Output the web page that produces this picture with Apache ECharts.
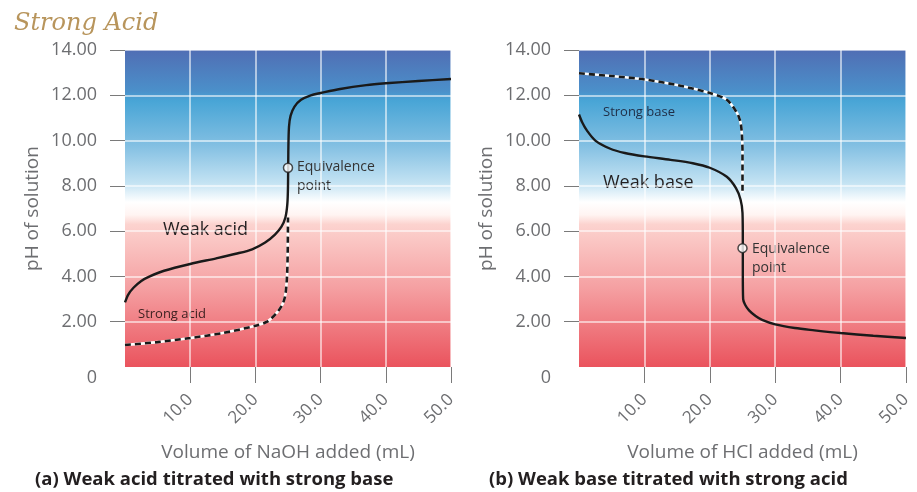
<!DOCTYPE html>
<html><head><meta charset="utf-8">
<script src="https://cdn.jsdelivr.net/npm/echarts@6/dist/echarts.min.js"></script>
<style>html,body{margin:0;padding:0;background:#fff}#c{width:917px;height:492px}</style>
</head><body><div id="c"></div>
<script>
// ---- data (x = mL titrant added, y = pH) ----
const yTicks = [0, 2, 4, 6, 8, 10, 12, 14];
const xTicks = [10, 20, 30, 40, 50];
const weakAcid = [[0,2.85],[0.5,3.2],[1.3,3.5],[2.5,3.8],[3.8,4.0],[6,4.25],[10,4.55],[14,4.8],[17,5.0],[19.5,5.2],[21.5,5.5],[23,5.85],[24,6.2],[24.6,6.6],[24.9,7.2],[25.0,8.0],[25.05,9.5],[25.15,10.6],[25.4,11.1],[26,11.5],[27,11.8],[28.5,12.0],[30,12.1],[33,12.28],[37,12.45],[40,12.53],[45,12.63],[50,12.72]];
const strongAcid = [[0,0.97],[5,1.1],[10,1.28],[15,1.5],[20,1.82],[21.8,2.0],[23.3,2.4],[24.2,2.8],[24.6,3.2],[24.85,4.0],[24.95,5.0],[25,6.6]];
const weakBase = [[0,11.15],[0.5,10.8],[1.2,10.45],[2.5,10.0],[4.7,9.65],[7,9.45],[10,9.3],[14,9.15],[17.4,9.0],[20,8.8],[22.6,8.4],[24,7.9],[24.7,7.4],[25,6.8],[25.05,5.5],[25.05,4.0],[25.1,3.0],[25.4,2.75],[26,2.5],[27,2.25],[28,2.08],[30,1.88],[33,1.72],[36,1.62],[40,1.5],[45,1.38],[50,1.28]];
const strongBase = [[0,12.97],[5,12.85],[10,12.7],[15,12.45],[20,12.1],[22.6,11.8],[24.2,11.2],[24.7,10.8],[24.9,10.3],[25,9.5],[25,7.7]];
const eqLeft = [[25, 8.8]];
const eqRight = [[25, 5.25]];

const FONT = 'Open Sans';
const grad = {type:'linear',x:0,y:0,x2:0,y2:1,colorStops:[
  {offset:0,color:'#506eb4'},{offset:0.13,color:'#4b90ca'},{offset:0.16,color:'#48a5d6'},
  {offset:0.3,color:'#82bfe2'},{offset:0.42,color:'#c4e3f3'},{offset:0.48,color:'#ffffff'},
  {offset:0.52,color:'#fff4f2'},{offset:0.55,color:'#fcd3cf'},{offset:0.75,color:'#f5a0a2'},
  {offset:1,color:'#ea535d'}]};

function yAxis(gi){
  return {type:'value',gridIndex:gi,min:0,max:14,interval:2,
    name:'pH of solution',nameLocation:'middle',nameGap:83,
    nameTextStyle:{fontFamily:FONT,fontSize:19,color:'#6d6e71'},
    axisLine:{show:false},
    axisTick:{show:true,length:15,customValues:[2,4,6,8,10,12,14],lineStyle:{color:'#7a7a7a',width:1}},
    axisLabel:{margin:28,fontFamily:FONT,fontSize:18,color:'#6d6e71',customValues:yTicks,
      formatter:v=>v===0?'{z|0}':v.toFixed(2),
      rich:{z:{fontFamily:FONT,fontSize:18,color:'#6d6e71',padding:[22,0,0,0]}}},
    splitLine:{show:true,lineStyle:{color:'rgba(255,255,255,0.75)',width:1.5}}};
}
function xAxis(gi,name){
  return {type:'value',gridIndex:gi,min:0,max:50,interval:10,
    name:name,nameLocation:'middle',nameGap:76,
    nameTextStyle:{fontFamily:FONT,fontSize:19,color:'#6d6e71'},
    axisLine:{show:false},
    axisTick:{show:true,length:16,customValues:xTicks,lineStyle:{color:'#7a7a7a',width:1}},
    axisLabel:{rotate:45,margin:30,padding:[70,0,0,0],fontFamily:FONT,fontSize:17,color:'#6d6e71',
      customValues:xTicks,formatter:v=>v.toFixed(1)},
    splitLine:{show:true,lineStyle:{color:'rgba(255,255,255,0.75)',width:1.5}}};
}
function line(gi,data,dashed){
  const s=[];
  if(dashed){
    s.push({type:'line',xAxisIndex:gi,yAxisIndex:gi,data:data,symbol:'none',smooth:0.3,
      lineStyle:{color:'#ffffff',width:2.6},z:3,silent:true});
    s.push({type:'line',xAxisIndex:gi,yAxisIndex:gi,data:data,symbol:'none',smooth:0.3,
      lineStyle:{color:'#1a1a1a',width:2.6,type:[6,4]},z:4,silent:true});
  } else {
    s.push({type:'line',xAxisIndex:gi,yAxisIndex:gi,data:data,symbol:'none',smooth:0.3,
      lineStyle:{color:'#1a1a1a',width:2.4},z:5,silent:true});
  }
  return s;
}
function eq(gi,data){
  return {type:'scatter',xAxisIndex:gi,yAxisIndex:gi,data:data,symbol:'circle',symbolSize:9,
    itemStyle:{color:'#ffffff',borderColor:'#222',borderWidth:1.5},z:10};
}
function txt(x,y,t,size,color,weight){
  return {type:'text',left:x,top:y,style:{text:t,fontFamily:FONT,fontSize:size,fill:color,fontWeight:weight||'normal',lineHeight:size+5}};
}

const chart = echarts.init(document.getElementById('c'),null,{renderer:'canvas'});
chart.setOption({
  animation:false,
  title:{text:'Strong Acid',left:9,top:7,textStyle:{fontFamily:'DejaVu Serif',fontStyle:'italic',fontWeight:'normal',fontSize:24,color:'#b8955c'}},
  grid:[
    {left:125,top:50,width:326,height:317,show:true,backgroundColor:grad,borderWidth:0},
    {left:579,top:50,width:327,height:317,show:true,backgroundColor:grad,borderWidth:0}
  ],
  xAxis:[xAxis(0,'Volume of NaOH added (mL)'),xAxis(1,'Volume of HCl added (mL)')],
  yAxis:[yAxis(0),yAxis(1)],
  series:[].concat(
    line(0,strongAcid,true),line(0,weakAcid,false),eq(0,eqLeft),
    line(1,strongBase,true),line(1,weakBase,false),eq(1,eqRight)
  ),
  graphic:[
    txt(297,158,'Equivalence\npoint',14,'#333'),
    txt(752,240,'Equivalence\npoint',14,'#333'),
    txt(163,218,'Weak acid',18,'#231f20'),
    txt(138,305,'Strong acid',13,'#3b1f1f'),
    txt(603,103,'Strong base',13,'#1f2d45'),
    txt(603,171,'Weak base',18,'#231f20'),
    txt(35,468,'(a) Weak acid titrated with strong base',18.5,'#231f20','bold'),
    txt(489,468,'(b) Weak base titrated with strong acid',18.5,'#231f20','bold')
  ]
});
</script></body></html>
